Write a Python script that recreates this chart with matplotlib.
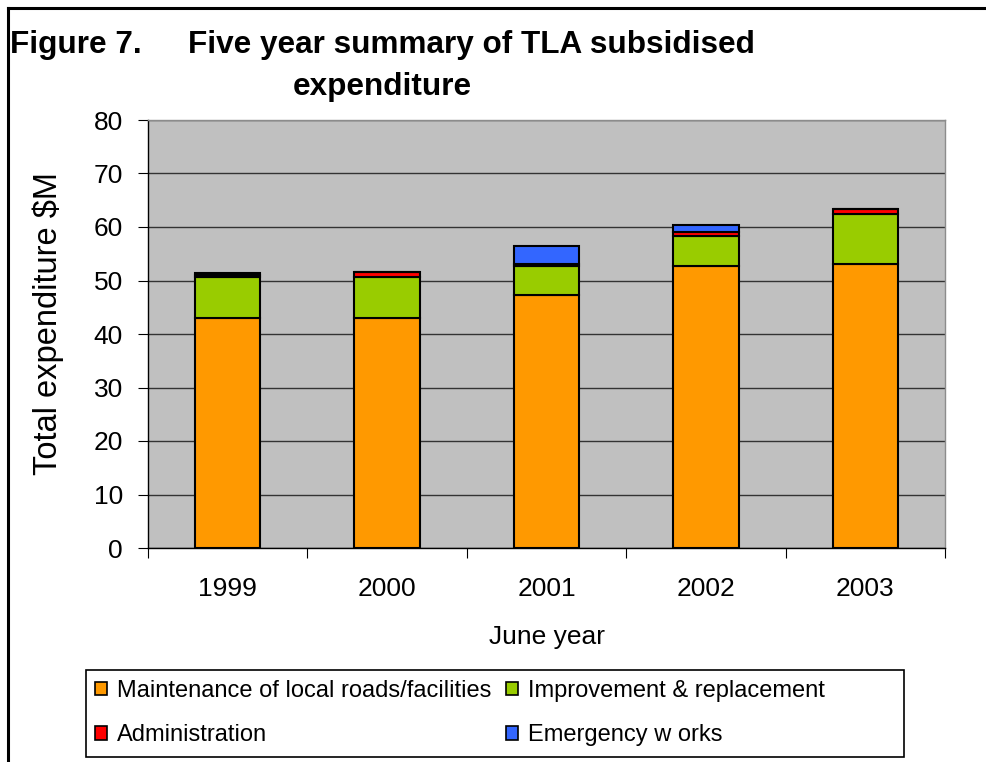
import matplotlib

matplotlib.use("Agg")

import matplotlib.pyplot as plt
from matplotlib.lines import Line2D
from matplotlib.patches import Patch, Rectangle
import numpy as np

plt.rcParams["font.family"] = ["Liberation Sans", "DejaVu Sans"]

YEARS = ["1999", "2000", "2001", "2002", "2003"]
MAINTENANCE = [43.0, 43.0, 47.3, 52.7, 53.1]
IMPROVEMENT = [7.6, 7.6, 5.4, 5.7, 9.3]
ADMINISTRATION = [0.4, 0.9, 0.3, 0.7, 0.9]
EMERGENCY = [0.4, 0.0, 3.4, 1.3, 0.0]

SERIES = [
    ("Maintenance of local roads/facilities", MAINTENANCE, "#FF9900"),
    ("Improvement & replacement", IMPROVEMENT, "#99CC00"),
    ("Administration", ADMINISTRATION, "#FF0000"),
    ("Emergency w orks", EMERGENCY, "#3366FF"),
]

W, H = 987, 762
fig = plt.figure(figsize=(W / 100, H / 100), dpi=100)

ax = fig.add_axes([148 / W, 1 - 548 / H, 797 / W, 428 / H])
ax.set_facecolor("#C0C0C0")

x = np.arange(len(YEARS))
bottom = np.zeros(len(YEARS))
handles = []
for name, vals, color in SERIES:
    vals = np.array(vals)
    ax.bar(x, vals, 0.41, bottom=bottom, color=color, edgecolor="black",
           linewidth=1.5, zorder=3)
    bottom += vals
    handles.append(Patch(facecolor=color, edgecolor="black", linewidth=1.2,
                         label=name))

ax.set_xlim(-0.5, len(YEARS) - 0.5)
ax.set_ylim(0, 80)
ax.set_yticks(np.arange(0, 81, 10))
ax.yaxis.grid(True, color="#333333", linewidth=1.0, zorder=1)
ax.set_axisbelow(True)

ax.set_xticks(np.arange(-0.5, len(YEARS), 1.0))
ax.set_xticklabels([])
ax.set_xticks(x, minor=True)
ax.set_xticklabels(YEARS, minor=True)
ax.tick_params(axis="x", which="major", direction="out", length=7, width=0.8)
ax.tick_params(axis="x", which="minor", length=0, pad=21, labelsize=19)
ax.tick_params(axis="y", direction="out", length=7, width=0.8, pad=11,
               labelsize=19)

for side in ("top", "right"):
    ax.spines[side].set_color("#8C8C8C")
    ax.spines[side].set_linewidth(1.0)
for side in ("left", "bottom"):
    ax.spines[side].set_color("black")
    ax.spines[side].set_linewidth(1.0)

fig.text(547 / W, 1 - 637 / H, "June year", ha="center", va="center",
         fontsize=19)
fig.text(48 / W, 1 - 324 / H, "Total expenditure $M", rotation=90,
         ha="center", va="center", fontsize=23.5)

fig.text(10 / W, 1 - 45 / H, "Figure 7.", ha="left", va="center",
         fontsize=22.7, fontweight="bold")
fig.text(188 / W, 1 - 45 / H, "Five year summary of TLA subsidised",
         ha="left", va="center", fontsize=22.7, fontweight="bold")
fig.text(382 / W, 1 - 87 / H, "expenditure", ha="center", va="center",
         fontsize=22.7, fontweight="bold")

# outer frame (top and left edges visible)
fig.add_artist(Line2D([8 / W, 1.0], [1 - 8 / H, 1 - 8 / H], color="black",
                      linewidth=2.2, transform=fig.transFigure))
fig.add_artist(Line2D([8 / W, 8 / W], [0.0, 1 - 8 / H], color="black",
                      linewidth=2.2, transform=fig.transFigure))

# legend box
fig.add_artist(Rectangle((86 / W, 1 - 757 / H), (904 - 86) / W,
                         (757 - 670) / H, transform=fig.transFigure,
                         facecolor="white", edgecolor="black", linewidth=1.2))
order = [handles[0], handles[2], handles[1], handles[3]]
fig.legend(handles=order, ncol=2, loc="upper left",
           bbox_to_anchor=(95 / W, 1 - 680 / H), frameon=False,
           fontsize=17, borderpad=0, borderaxespad=0,
           handlelength=0.5, handleheight=0.5, handletextpad=0.45,
           columnspacing=0.6, labelspacing=0.95)

fig.savefig("out.png", dpi=100)
